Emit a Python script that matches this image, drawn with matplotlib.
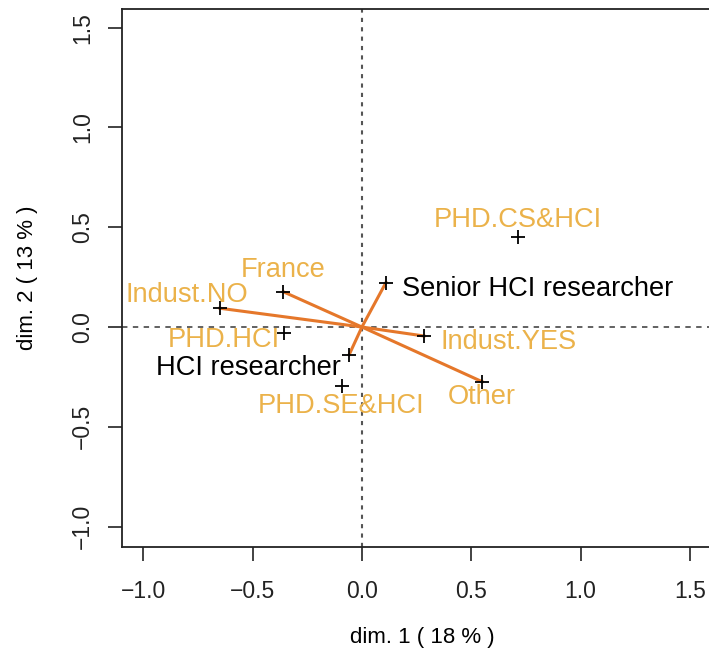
import matplotlib
matplotlib.use("Agg")
import matplotlib.pyplot as plt

plt.rcParams['font.family'] = ['Liberation Sans', 'DejaVu Sans']

# category coordinates
labels = ["Indust.NO", "France", "PHD.HCI", "HCI researcher", "PHD.SE&HCI",
          "Senior HCI researcher", "PHD.CS&HCI", "Indust.YES", "Other"]
dim1 = [-0.649, -0.360, -0.355, -0.058, -0.093, 0.110, 0.714, 0.284, 0.550]
dim2 = [0.094, 0.177, -0.028, -0.138, -0.295, 0.223, 0.453, -0.045, -0.274]
# which categories get a segment from the origin
linked = [True, True, False, True, False, True, False, True, True]
# black (supplementary) vs orange labels
supp = [False, False, False, True, False, True, False, False, False]

xticks = [-1.0, -0.5, 0.0, 0.5, 1.0, 1.5]
yticks = [-1.0, -0.5, 0.0, 0.5, 1.0, 1.5]
xlabel = "dim. 1 ( 18 % )"
ylabel = "dim. 2 ( 13 % )"

# label offsets in pixels (dx, dy) relative to the point
offsets = [(-33, 13), (0, 22), (-60, -7), (-101, -13), (0, -20),
           (152, -6), (0, 17), (85, -6), (0, -15)]

line_col = '#E5772A'
lab_col = '#EBB24A'

fig = plt.figure(figsize=(7.09, 6.53), dpi=100)
ax = fig.add_axes([0.172, 0.1623, 0.8475, 0.8239])
ax.set_xlim(-1.097, 1.65)
ax.set_ylim(-1.102, 1.593)

ax.axhline(0, color='#555555', lw=1.3, ls=(0, (3, 3)), zorder=1)
ax.axvline(0, color='#555555', lw=1.5, ls=(0, (2, 2.5)), zorder=1)

for x, y, l in zip(dim1, dim2, linked):
    if l:
        ax.plot([0, x], [0, y], color=line_col, lw=2.2, zorder=2)

ax.scatter(dim1, dim2, marker='+', s=110, color='black', linewidths=1.3, zorder=3)

for x, y, t, s, off in zip(dim1, dim2, labels, supp, offsets):
    ax.annotate(t, (x, y), xytext=off, textcoords='offset pixels',
                ha='center', va='center', fontsize=19.6,
                color='black' if s else lab_col, zorder=4)

ax.set_xticks(xticks)
ax.set_yticks(yticks)
ax.set_xticklabels([f"{v:.1f}".replace('-', '\u2212') for v in xticks])
ax.set_yticklabels([f"{v:.1f}".replace('-', '\u2212') for v in yticks],
                   rotation=90, va='center')
ax.tick_params(direction='out', length=10, width=1.2, labelsize=16.5,
               colors='#222222')
ax.tick_params(axis='x', pad=14)
ax.tick_params(axis='y', pad=10)
for sp in ax.spines.values():
    sp.set_linewidth(1.3)
    sp.set_color('#222222')

ax.set_xlabel(xlabel, fontsize=16, labelpad=17)
ax.set_ylabel(ylabel, fontsize=16, labelpad=24)

fig.savefig("out.png", dpi=100)
